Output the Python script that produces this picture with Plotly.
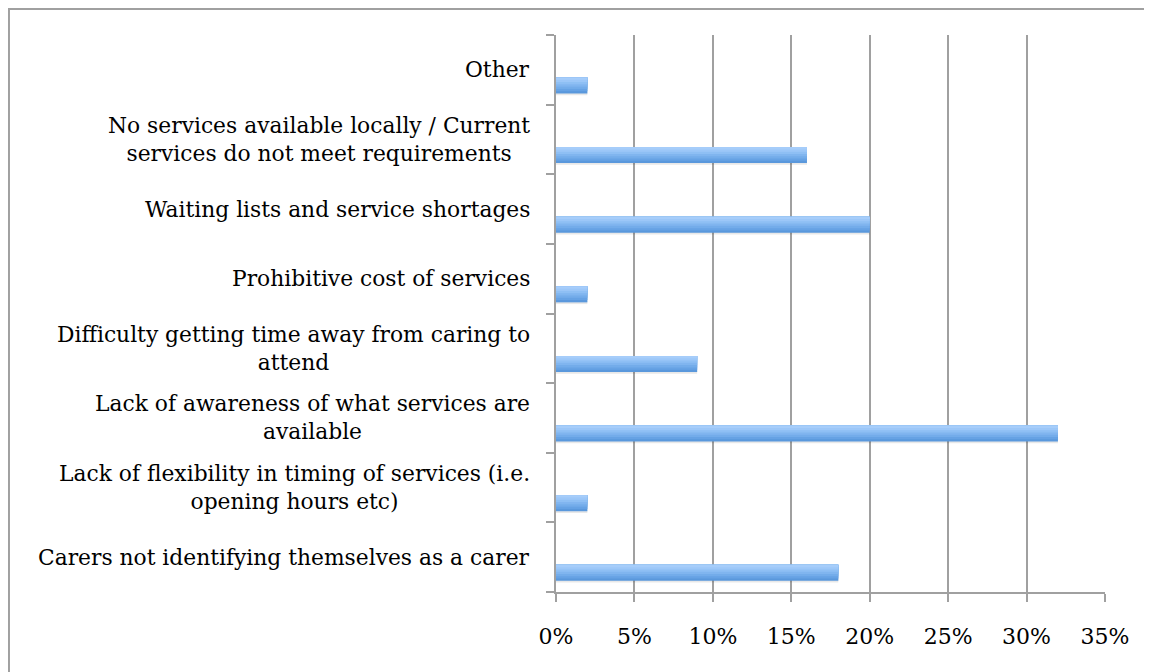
import plotly.graph_objects as go

categories = [
    "Carers not identifying themselves as a carer",
    "Lack of flexibility in timing of services (i.e.<br>opening hours etc)",
    "Lack of awareness of what services are<br>available",
    "Difficulty getting time away from caring to<br>attend",
    "Prohibitive cost of services",
    "Waiting lists and service shortages",
    "No services available locally / Current<br>services do not meet requirements",
    "Other",
]
values = [18, 2, 32, 9, 2, 20, 16, 2]
x_ticks = [0, 5, 10, 15, 20, 25, 30, 35]
x_tick_labels = ["0%", "5%", "10%", "15%", "20%", "25%", "30%", "35%"]

FONT = "DejaVu Serif"
fig = go.Figure()

# shadow
fig.add_trace(go.Bar(
    y=categories, x=values, orientation="h",
    offset=-0.365, width=0.23,
    marker=dict(color="rgba(0,0,0,0.09)", line=dict(width=0)),
    hoverinfo="skip", showlegend=False,
))

# gradient: overlapping layers, dark at bottom -> light at top
stripe_colors = ["#5a98dc", "#66a2e4", "#73acea", "#80b5ef", "#8ebff4", "#9cc7f8", "#a6cdfa"]
n = len(stripe_colors)
total = 0.23
w = total / n
for i, c in enumerate(stripe_colors):
    fig.add_trace(go.Bar(
        y=categories, x=values, orientation="h",
        offset=-0.34 + i * w, width=total - i * w,
        marker=dict(color=c, line=dict(width=0)),
        hoverinfo="skip", showlegend=False,
    ))

for cat in categories:
    fig.add_annotation(
        x=0, xref="paper", y=cat, yref="y",
        text=cat, showarrow=False,
        xanchor="right", yanchor="middle", align="center",
        xshift=-24,
        font=dict(family=FONT, size=21.8, color="#000000"),
    )

# outer chart border (kept inside the figure's own canvas)
fig.add_shape(type="rect", xref="paper", yref="paper",
              x0=-0.9964, x1=1.2, y0=-0.2, y1=1.0467,
              line=dict(color="#a0a0a0", width=2), fillcolor="rgba(0,0,0,0)",
              layer="below")

fig.update_layout(
    width=1152, height=672,
    margin=dict(l=548, r=55, t=27, b=88),
    paper_bgcolor="white", plot_bgcolor="white",
    barmode="overlay",
    showlegend=False,
    xaxis=dict(
        range=[0, 35], tickvals=x_ticks, ticktext=x_tick_labels,
        showgrid=True, gridcolor="#a0a0a0", gridwidth=1.5,
        zeroline=False, showline=True, linecolor="#a0a0a0", linewidth=1.5,
        ticks="outside", ticklen=8, tickcolor="#a0a0a0", tickwidth=1.5,
        ticklabelstandoff=16,
        tickfont=dict(family=FONT, size=22, color="#000000"),
    ),
    yaxis=dict(
        type="category", categoryorder="array", categoryarray=categories,
        range=[-0.5, 7.5],
        showticklabels=False, showgrid=False, zeroline=False,
        showline=True, linecolor="#a0a0a0", linewidth=1.5,
        ticks="outside", ticklen=8, tickcolor="#a0a0a0", tickwidth=1.5,
        tickson="boundaries",
    ),
)

fig.write_html("out.html")
